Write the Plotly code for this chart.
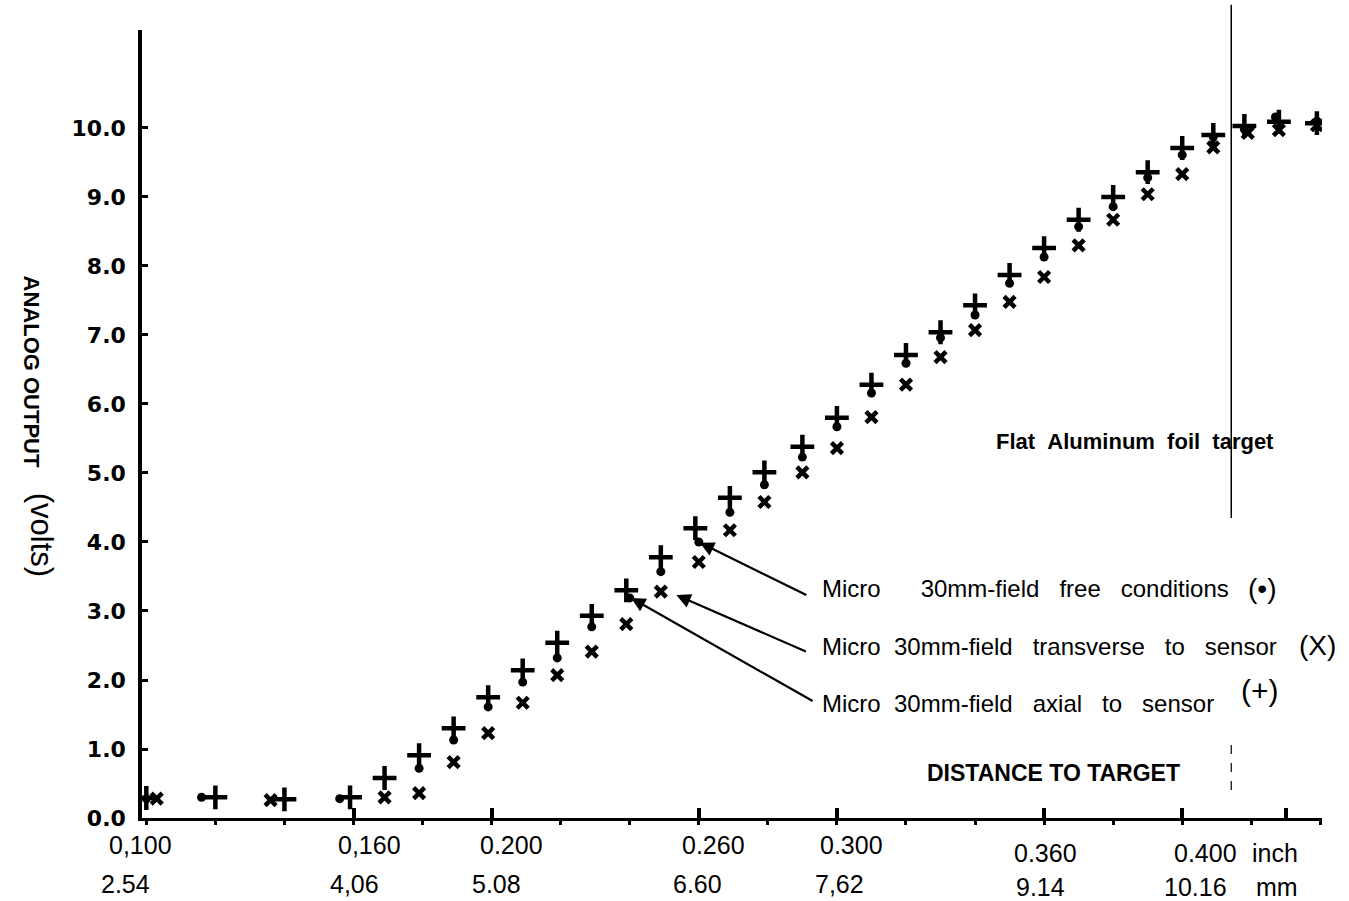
import plotly.graph_objects as go

# ---- data (distance in inch, output in volts) ----
axial_x = [0.100, 0.120, 0.140, 0.159, 0.169, 0.179, 0.189, 0.199, 0.209, 0.219,
           0.229, 0.239, 0.249, 0.259, 0.269, 0.279, 0.290, 0.300, 0.310, 0.320,
           0.330, 0.340, 0.350, 0.360, 0.370, 0.380, 0.390, 0.400, 0.409, 0.418,
           0.428, 0.439]
axial_y = [0.29, 0.30, 0.27, 0.30, 0.58, 0.91, 1.30, 1.75, 2.14, 2.54,
           2.93, 3.30, 3.78, 4.20, 4.64, 5.01, 5.38, 5.80, 6.28, 6.71,
           7.04, 7.43, 7.87, 8.26, 8.67, 9.00, 9.36, 9.71, 9.90, 10.03,
           10.09, 10.07]

free_x = [0.100, 0.116, 0.156, 0.179, 0.189, 0.199, 0.209, 0.219, 0.229, 0.240,
          0.249, 0.260, 0.269, 0.279, 0.290, 0.300, 0.310, 0.320, 0.330, 0.340,
          0.350, 0.360, 0.370, 0.380, 0.390, 0.400, 0.409, 0.418, 0.427, 0.439]
free_y = [0.28, 0.30, 0.28, 0.72, 1.13, 1.61, 1.97, 2.32, 2.77, 3.19,
          3.57, 4.00, 4.43, 4.83, 5.23, 5.67, 6.16, 6.59, 6.96, 7.29,
          7.75, 8.13, 8.57, 8.86, 9.28, 9.61, 9.87, 9.98, 10.16, 10.10]

trans_x = [0.103, 0.136, 0.169, 0.179, 0.189, 0.199, 0.209, 0.219, 0.229, 0.239,
           0.249, 0.260, 0.269, 0.279, 0.290, 0.300, 0.310, 0.320, 0.330, 0.340,
           0.350, 0.360, 0.370, 0.380, 0.390, 0.400, 0.409, 0.419, 0.428, 0.439]
trans_y = [0.28, 0.26, 0.30, 0.36, 0.81, 1.23, 1.67, 2.07, 2.41, 2.81,
           3.28, 3.71, 4.17, 4.58, 5.01, 5.36, 5.81, 6.28, 6.68, 7.07,
           7.48, 7.84, 8.30, 8.67, 9.04, 9.33, 9.72, 9.93, 9.97, 10.04]

y_ticks = [0, 1, 2, 3, 4, 5, 6, 7, 8, 9, 10]
y_tick_text = ["0.0", "1.0", "2.0", "3.0", "4.0", "5.0", "6.0", "7.0", "8.0", "9.0", "10.0"]

x_major = [0.16, 0.20, 0.26, 0.30, 0.36, 0.40, 0.43]
inch_vals = [0.100, 0.160, 0.200, 0.260, 0.300, 0.360, 0.400]
inch_text = ["0,100", "0,160", "0.200", "0.260", "0.300", "0.360", "0.400"]
mm_text = ["2.54", "4,06", "5.08", "6.60", "7,62", "9.14", "10.16"]

target_x = 0.4142

BLACK = "#000000"
FONT = "Liberation Sans, Arial, sans-serif"
NB = "\u00a0"

fig = go.Figure()
fig.add_trace(go.Scatter(x=free_x, y=free_y, mode="markers", name="free",
                         marker=dict(symbol="circle", size=9, color=BLACK)))
fig.add_trace(go.Scatter(x=trans_x, y=trans_y, mode="markers", name="transverse",
                         marker=dict(symbol="x-thin", size=11, color=BLACK,
                                     line=dict(width=4.5, color=BLACK))))
fig.add_trace(go.Scatter(x=axial_x, y=axial_y, mode="markers", name="axial",
                         marker=dict(symbol="cross-thin", size=17, color=BLACK,
                                     line=dict(width=4.5, color=BLACK))))

ann = []
# x tick labels (inch row + mm row), hand-placed like the original
row1_shift = [-6, 16, 20, 15, 15, 1, 23]
row1_y = [-27, -27, -27, -27, -27, -35, -35]
row2_shift = [-21, 1, 5, -1, 3, -4, 13]
row2_y = [-66, -66, -66, -66, -66, -69, -69]
for i, v in enumerate(inch_vals):
    ann.append(dict(x=v, y=0, xref="x", yref="y", text=inch_text[i], showarrow=False,
                    xshift=row1_shift[i], yshift=row1_y[i],
                    font=dict(family=FONT, size=25, color=BLACK)))
    ann.append(dict(x=v, y=0, xref="x", yref="y", text=mm_text[i], showarrow=False,
                    xshift=row2_shift[i], yshift=row2_y[i],
                    font=dict(family=FONT, size=25, color=BLACK)))
ann.append(dict(x=0.981, y=0, xref="paper", yref="y", text="inch", showarrow=False,
                yshift=-35, font=dict(family=FONT, size=25, color=BLACK)))
ann.append(dict(x=0.981, y=0, xref="paper", yref="y", text="mm", showarrow=False,
                yshift=-69, font=dict(family=FONT, size=25, color=BLACK)))

# y-axis title (rotated)
ann.append(dict(x=-0.106, y=0.566, xref="paper", yref="paper", text="<b>ANALOG OUTPUT</b>",
                showarrow=False, textangle=90,
                font=dict(family=FONT, size=22, color=BLACK)))
ann.append(dict(x=-0.101, y=0.359, xref="paper", yref="paper", text="(volts)",
                showarrow=False, textangle=90,
                font=dict(family=FONT, size=31, color=BLACK)))

# text labels
ann.append(dict(x=0.3863, y=5.46, xref="x", yref="y",
                text="<b>Flat" + NB * 2 + "Aluminum" + NB * 2 + "foil" + NB * 2 + "target</b>",
                showarrow=False, font=dict(family=FONT, size=22, color=BLACK)))
ann.append(dict(x=0.3626, y=0.65, xref="x", yref="y",
                text="<b>DISTANCE TO TARGET</b>", showarrow=False,
                font=dict(family=FONT, size=23, color=BLACK)))

labels = [("Micro" + NB * 6 + "30mm-field" + NB * 3 + "free" + NB * 3 + "conditions", 3.33),
          ("Micro" + NB * 2 + "30mm-field" + NB * 3 + "transverse" + NB * 3 + "to" + NB * 3 + "sensor", 2.49),
          ("Micro" + NB * 2 + "30mm-field" + NB * 3 + "axial" + NB * 3 + "to" + NB * 3 + "sensor", 1.66)]
for t, yy in labels:
    ann.append(dict(x=0.2951, y=yy, xref="x", yref="y", text=t, showarrow=False,
                    xanchor="left", font=dict(family=FONT, size=24, color=BLACK)))
ann.append(dict(x=0.4231, y=3.33, xref="x", yref="y", text="(\u2022)", showarrow=False,
                font=dict(family=FONT, size=28, color=BLACK)))
ann.append(dict(x=0.4393, y=2.50, xref="x", yref="y", text="(X)", showarrow=False,
                font=dict(family=FONT, size=28, color=BLACK)))
ann.append(dict(x=0.4225, y=1.85, xref="x", yref="y", text="(+)", showarrow=False,
                font=dict(family=FONT, size=30, color=BLACK)))

# arrows
arrows = [(0.2603, 3.99, 108, 53), (0.2535, 3.23, 131, 57), (0.2404, 3.19, 183, 104)]
for ax_, ay_, dx, dy in arrows:
    ann.append(dict(x=ax_, y=ay_, xref="x", yref="y", text="", showarrow=True,
                    ax=dx, ay=dy, arrowhead=2, arrowsize=1.3, arrowwidth=2.2,
                    arrowcolor=BLACK))

shapes = [
    dict(type="line", xref="x", yref="paper", x0=target_x, x1=target_x, y0=0.3807, y1=1.032,
         line=dict(color=BLACK, width=1.5)),
    dict(type="line", xref="x", yref="paper", x0=target_x, x1=target_x, y0=0.0355, y1=0.0964,
         line=dict(color=BLACK, width=1.2, dash="dash")),
]

fig.update_layout(
    width=1349, height=901,
    margin=dict(l=142, r=27, t=30, b=83),
    paper_bgcolor="white", plot_bgcolor="white",
    showlegend=False,
    annotations=ann, shapes=shapes,
    xaxis=dict(range=[0.09875, 0.44048], showgrid=False, zeroline=False,
               showline=True, linecolor=BLACK, linewidth=2.5,
               tickvals=x_major, ticks="inside", ticklen=10, tickwidth=4, tickcolor=BLACK,
               showticklabels=False,
               minor=dict(tick0=0.1, dtick=0.02, ticks="outside", ticklen=4,
                          tickwidth=3, tickcolor=BLACK)),
    yaxis=dict(range=[0, 11.42], showgrid=False, zeroline=False,
               showline=True, linecolor=BLACK, linewidth=3.5,
               tickvals=y_ticks, ticktext=y_tick_text,
               ticks="inside", ticklen=6, tickwidth=2.5, tickcolor=BLACK,
               ticklabelstandoff=8,
               tickfont=dict(family="DejaVu Sans, sans-serif", size=22, color=BLACK,
                             weight="bold")),
)

fig.write_html("out.html")
